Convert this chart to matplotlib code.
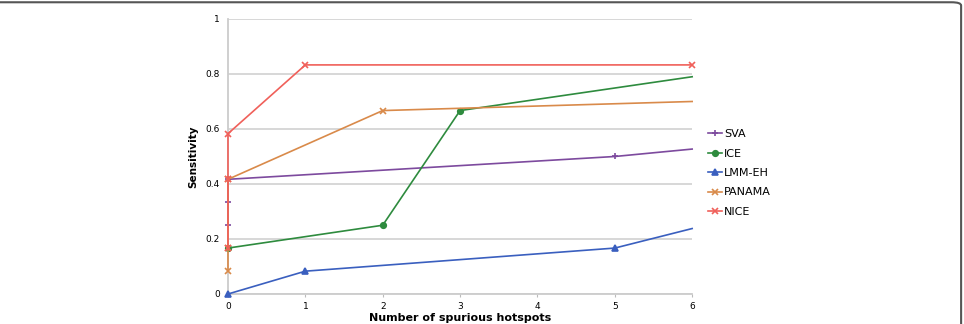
import matplotlib
matplotlib.use('Agg')
import matplotlib.pyplot as plt
from matplotlib.patches import FancyBboxPatch

# Datos (x = numero de hotspots espurios)
sva_x = [0, 0, 0, 5, 6]
sva_y = [0.25, 0.333, 0.417, 0.5, 0.527]
ice_x = [0, 2, 3, 6]
ice_y = [0.167, 0.25, 0.667, 0.79]
lmm_x = [0, 1, 5, 6]
lmm_y = [0.0, 0.083, 0.167, 0.238]
panama_x = [0, 0, 0, 2, 6]
panama_y = [0.083, 0.167, 0.417, 0.667, 0.70]
nice_x = [0, 0, 0, 1, 6]
nice_y = [0.167, 0.417, 0.583, 0.833, 0.833]

labels = ['SVA', 'ICE', 'LMM-EH', 'PANAMA', 'NICE']
colors = ['#7d4a9e', '#2e8b3e', '#3a5fbf', '#d98a4a', '#f0605a']
markers = ['+', 'o', '^', 'x', 'x']

plt.rcParams['font.family'] = 'DejaVu Sans'
fig = plt.figure(figsize=(9.64, 3.24), dpi=100)
ax = fig.add_axes([0.2365, 0.0926, 0.4815, 0.8488])

series = [(sva_x, sva_y), (ice_x, ice_y), (lmm_x, lmm_y),
          (panama_x, panama_y), (nice_x, nice_y)]
for (x, y), lab, c, m in zip(series, labels, colors, markers):
    # el ultimo punto (x=6) no lleva marcador, salvo NICE
    idx = list(range(len(x))) if lab == 'NICE' else list(range(len(x) - 1))
    ax.plot(x, y, color=c, lw=1.2, marker=m, ms=4, mew=1.2,
            markevery=idx, label=lab, clip_on=False, zorder=3)

ax.set_xlim(0, 6)
ax.set_ylim(0, 1)
ax.set_xticks(range(7))
ax.set_yticks([0, 0.2, 0.4, 0.6, 0.8, 1])
ax.set_yticklabels(['0', '0.2', '0.4', '0.6', '0.8', '1'])
ax.tick_params(labelsize=6.5, length=2, color='#bbbbbb', pad=4)
ax.tick_params(axis='y', length=0, pad=6)
ax.grid(axis='y', color='#d4d4d4', lw=1.3)
ax.set_axisbelow(True)
for s in ['top', 'right']:
    ax.spines[s].set_visible(False)
for s in ['left', 'bottom']:
    ax.spines[s].set_color('#cccccc')
    ax.spines[s].set_linewidth(1.3)

ax.set_ylabel('Sensitivity', fontsize=7.5, fontweight='bold', labelpad=5)
ax.set_xlabel('Number of spurious hotspots', fontsize=8, fontweight='bold', labelpad=1)

ax.legend(loc='center left', bbox_to_anchor=(1.025, 0.44), frameon=False,
          fontsize=8, handlelength=1.2, handletextpad=0.2, labelspacing=0.85,
          borderaxespad=0)

# marco de la imagen
fig.patches.append(FancyBboxPatch((-0.01, -0.05), 1.007, 1.043,
                                  boxstyle='round,pad=0,rounding_size=0.01',
                                  transform=fig.transFigure, fill=False,
                                  ec='#555555', lw=1.5))

fig.savefig('out.png', dpi=100)
